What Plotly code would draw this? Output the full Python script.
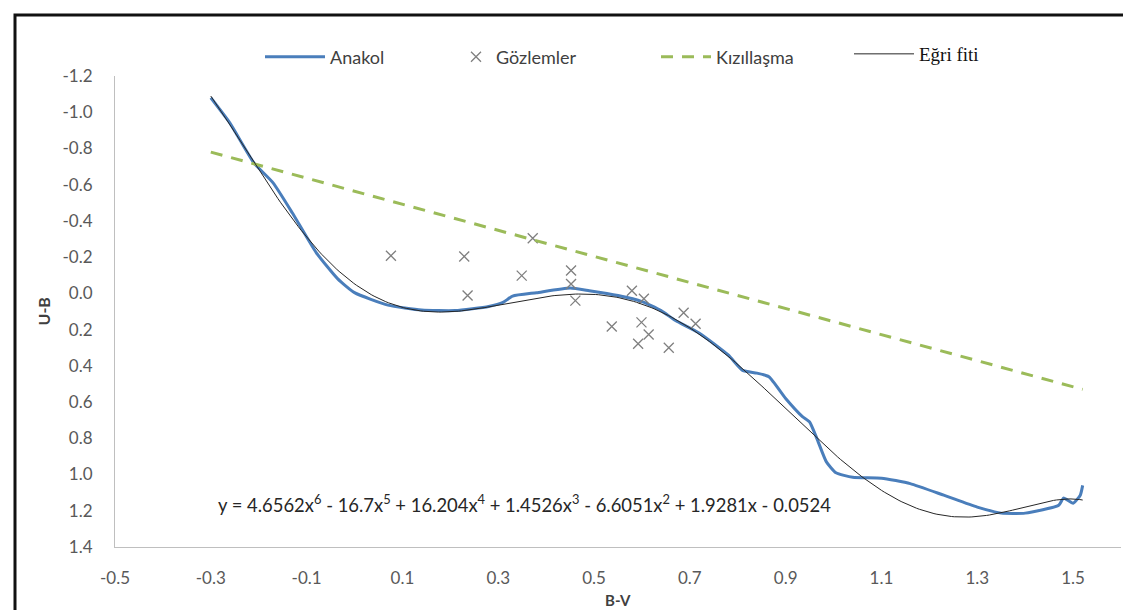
import numpy as np
import plotly.graph_objects as go

# ---- data ----
anakol_bv = [-0.30, -0.26, -0.21, -0.17, -0.13, -0.08, -0.035, 0.00, 0.07, 0.14, 0.21, 0.28, 0.31, 0.33,
             0.38, 0.45, 0.49, 0.55, 0.60, 0.64, 0.67, 0.72, 0.78, 0.81, 0.84, 0.865, 0.90, 0.935, 0.95,
             0.965, 0.985, 1.005, 1.04, 1.10, 1.16, 1.23, 1.30, 1.35, 1.40, 1.47, 1.48, 1.50, 1.515, 1.52]
anakol_ub = [-1.08, -0.94, -0.72, -0.61, -0.445, -0.225, -0.08, -0.004, 0.065, 0.092, 0.095, 0.072, 0.05, 0.015,
             -0.004, -0.03, -0.015, 0.012, 0.045, 0.095, 0.15, 0.22, 0.34, 0.425, 0.44, 0.46, 0.58, 0.68, 0.71,
             0.80, 0.93, 0.99, 1.015, 1.02, 1.05, 1.114, 1.18, 1.213, 1.213, 1.17, 1.13, 1.158, 1.114, 1.06]

obs_bv = [0.076, 0.229, 0.236, 0.349, 0.372, 0.452, 0.452, 0.461, 0.537, 0.579, 0.604, 0.599, 0.614,
          0.592, 0.656, 0.687, 0.712]
obs_ub = [-0.208, -0.204, 0.012, -0.098, -0.304, -0.126, -0.052, 0.04, 0.183, -0.015, 0.03, 0.16, 0.227,
          0.278, 0.30, 0.107, 0.168]

red_bv = [-0.30, 1.52]
red_ub = [-0.78, 0.53]

# polynomial trendline coefficients (highest power first), as printed on the chart
fit_coeffs = [4.6562, -16.7, 16.204, 1.4526, -6.6051, 1.9281, -0.0524]
fit_range = [-0.30, 1.52]

x_tickvals = [-0.5, -0.3, -0.1, 0.1, 0.3, 0.5, 0.7, 0.9, 1.1, 1.3, 1.5]
x_ticktext = ["-0.5", "-0.3", "-0.1", "0.1", "0.3", "0.5", "0.7", "0.9", "1.1", "1.3", "1.5"]
y_tickvals = [-1.2, -1.0, -0.8, -0.6, -0.4, -0.2, 0.0, 0.2, 0.4, 0.6, 0.8, 1.0, 1.2, 1.4]
y_ticktext = ["-1.2", "-1.0", "-0.8", "-0.6", "-0.4", "-0.2", "0.0", "0.2", "0.4", "0.6", "0.8", "1.0",
              "1.2", "1.4"]

eq_text = ("y = 4.6562x<sup>6</sup> - 16.7x<sup>5</sup> + 16.204x<sup>4</sup> + 1.4526x<sup>3</sup>"
           " - 6.6051x<sup>2</sup> + 1.9281x - 0.0524")

# ---- layout geometry ----
W, H = 1131, 610
ML, MR, MT, MB = 107, 18, 68, 71
PW, PH = W - ML - MR, H - MT - MB

FONT = "Lato, Calibri, 'Liberation Sans', sans-serif"
GREY = "#595959"


def cx(px):
    return px / W


def cy(py):
    return 1 - py / H


fit_x = np.linspace(fit_range[0], fit_range[1], 300)
fit_y = np.polyval(fit_coeffs, fit_x)

fig = go.Figure()
fig.add_trace(go.Scatter(x=anakol_bv, y=anakol_ub, mode="lines", name="Anakol", legend="legend",
                         line=dict(color="#4A7EBB", width=3, shape="spline", smoothing=0.5)))
fig.add_trace(go.Scatter(x=obs_bv, y=obs_ub, mode="markers", name="Gözlemler", legend="legend2",
                         marker=dict(symbol="x-thin", size=10, line=dict(color="#7F7F7F", width=1.3),
                                     color="#7F7F7F")))
fig.add_trace(go.Scatter(x=red_bv, y=red_ub, mode="lines", name="Kızıllaşma", legend="legend3",
                         line=dict(color="#9BBB59", width=3, dash="12px,9px")))
fig.add_trace(go.Scatter(x=fit_x, y=fit_y, mode="lines", name="Eğri fiti", legend="legend4",
                         line=dict(color="#262626", width=1)))

LEG_Y = 49
leg_common = dict(orientation="h", xref="container", yref="container", xanchor="left", yanchor="middle",
                  bgcolor="rgba(0,0,0,0)", borderwidth=0,
                  font=dict(family=FONT, size=18, color="#404040"))

fig.update_layout(
    width=W, height=H,
    margin=dict(l=ML, r=MR, t=MT, b=MB, autoexpand=False),
    paper_bgcolor="white", plot_bgcolor="white",
    font=dict(family=FONT, size=17, color=GREY),
    showlegend=True,
    legend=dict(leg_common, x=cx(252), y=cy(LEG_Y), itemwidth=60),
    legend2=dict(leg_common, x=cx(448), y=cy(LEG_Y), itemwidth=30),
    legend3=dict(leg_common, x=cx(648), y=cy(LEG_Y), itemwidth=50),
    legend4=dict(leg_common, x=cx(841), y=cy(LEG_Y - 3), itemwidth=60,
                 font=dict(family="'Liberation Serif', 'DejaVu Serif', serif", size=19, color="#111111")),
    xaxis=dict(range=[-0.5, 1.6], tickmode="array", tickvals=x_tickvals, ticktext=x_ticktext,
               showgrid=False, zeroline=False, showline=True, linecolor="#BFBFBF", linewidth=1, ticks="",
               ticklabelstandoff=16, tickfont=dict(size=17, color=GREY)),
    yaxis=dict(range=[1.4, -1.2], tickmode="array", tickvals=y_tickvals, ticktext=y_ticktext,
               showgrid=False, zeroline=False, showline=True, linecolor="#BFBFBF", linewidth=1, ticks="",
               ticklabelstandoff=18, tickfont=dict(size=17, color=GREY)),
)

fig.add_annotation(x=0.354, y=1.158, xref="x", yref="y", text=eq_text, showarrow=False,
                   font=dict(family=FONT, size=18.4, color="#262626"))
fig.add_annotation(x=0.5, y=(H - MB - 592) / PH, xref="paper", yref="paper", text="<b>B-V</b>",
                   showarrow=False, font=dict(family=FONT, size=15, color="#404040"), yanchor="middle")
fig.add_annotation(x=(35 - ML) / PW, y=0.5, xref="paper", yref="paper", text="<b>U-B</b>", textangle=-90,
                   showarrow=False, font=dict(family=FONT, size=16, color="#404040"), xanchor="center")

# outer chart border
fig.add_shape(type="rect", xref="paper", yref="paper",
              x0=(7 - ML) / PW, x1=(1127 - ML) / PW, y0=(H - MB - 606) / PH, y1=(H - MB - 7) / PH,
              line=dict(color="#111111", width=3), layer="above")

fig.write_html("out.html")
